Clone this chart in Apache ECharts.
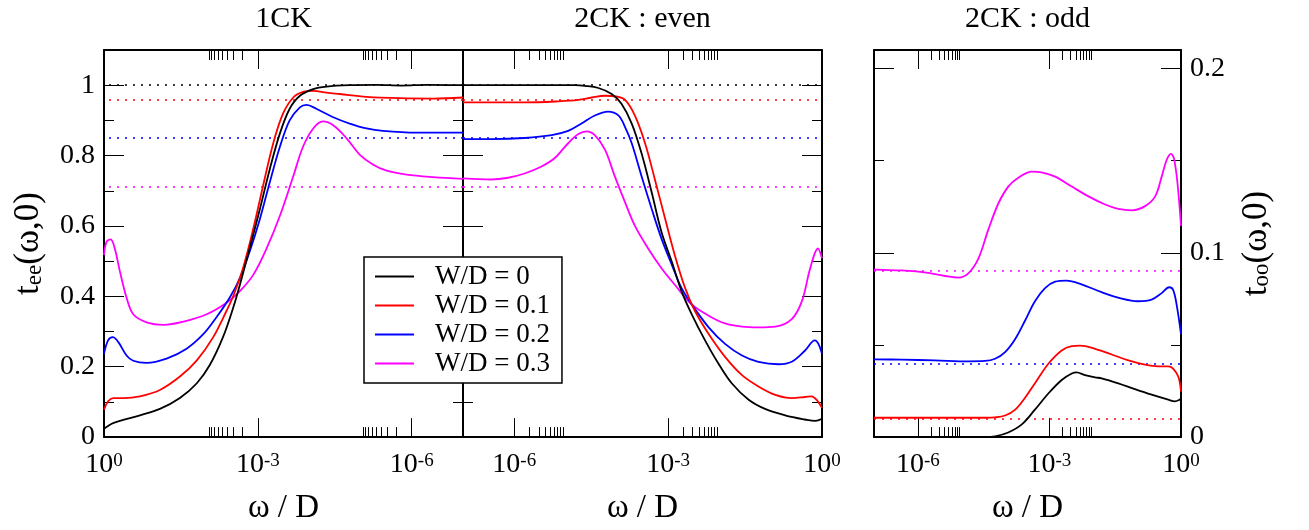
<!DOCTYPE html>
<html>
<head>
<meta charset="utf-8">
<script src="https://cdn.jsdelivr.net/npm/echarts@6/dist/echarts.min.js"></script>
<style>
  html, body { margin: 0; padding: 0; background: #fff; }
  #chart { width: 1309px; height: 530px; }
</style>
</head>
<body>
<div id="chart"></div>
<script>
// x values are log10(ω/D); y values are t(ω,0)

const seriesNames = ['W/D = 0', 'W/D = 0.1', 'W/D = 0.2', 'W/D = 0.3'];
const seriesColors = ['#000000', '#ff0000', '#0000ff', '#ff00ff'];
const panelTitles = ['1CK', '2CK : even', '2CK : odd'];

// dotted reference levels
const evenLevels = [1.0, 0.958, 0.85, 0.715];
const oddLevels = [0, 0.0105, 0.0416, 0.0897];

// 1CK
const ck1_w0 = [[0,0.024],[-0.15,0.038],[-0.31,0.046],[-0.70,0.062],[-1.09,0.080],[-1.48,0.111],[-1.81,0.153],[-2.06,0.204],[-2.32,0.284],[-2.52,0.368],[-2.65,0.433],[-2.84,0.536],[-3.04,0.648],[-3.23,0.760],[-3.43,0.863],[-3.62,0.933],[-3.82,0.970],[-4.08,0.989],[-4.34,0.996],[-4.79,1.0],[-5.3,1.001],[-5.8,0.999],[-6.3,1.001],[-7,1.0]];
const ck1_w1 = [[0,0.078],[-0.08,0.102],[-0.18,0.111],[-0.38,0.111],[-0.70,0.116],[-1.09,0.134],[-1.48,0.172],[-1.81,0.218],[-2.13,0.284],[-2.39,0.359],[-2.52,0.401],[-2.71,0.480],[-2.91,0.592],[-3.10,0.713],[-3.30,0.835],[-3.49,0.919],[-3.69,0.965],[-3.88,0.981],[-4.08,0.984],[-4.34,0.979],[-4.60,0.975],[-5.12,0.967],[-5.77,0.963],[-6.42,0.962],[-7,0.965]];
const ck1_w2 = [[0,0.237],[-0.08,0.275],[-0.17,0.284],[-0.28,0.270],[-0.44,0.232],[-0.57,0.217],[-0.83,0.211],[-1.22,0.223],[-1.61,0.251],[-1.94,0.293],[-2.19,0.340],[-2.45,0.396],[-2.65,0.452],[-2.84,0.527],[-3.04,0.620],[-3.23,0.723],[-3.43,0.825],[-3.62,0.900],[-3.82,0.937],[-3.95,0.944],[-4.14,0.933],[-4.47,0.909],[-4.79,0.891],[-5.12,0.877],[-5.44,0.870],[-6.09,0.865],[-7,0.865]];
const ck1_w3 = [[0,0.517],[-0.05,0.555],[-0.13,0.562],[-0.21,0.536],[-0.31,0.471],[-0.44,0.396],[-0.57,0.349],[-0.83,0.326],[-1.16,0.319],[-1.55,0.328],[-2.0,0.349],[-2.39,0.382],[-2.65,0.415],[-2.91,0.461],[-3.17,0.536],[-3.43,0.629],[-3.69,0.741],[-3.88,0.825],[-4.08,0.877],[-4.27,0.897],[-4.47,0.886],[-4.73,0.849],[-4.99,0.802],[-5.25,0.774],[-5.51,0.757],[-5.90,0.746],[-6.42,0.739],[-7,0.734]];

// 2CK even channel
const ck2e_w0 = [[-7,1.0],[-4.82,1.0],[-4.62,0.998],[-4.36,0.992],[-4.10,0.975],[-3.91,0.947],[-3.71,0.891],[-3.52,0.807],[-3.32,0.695],[-3.13,0.583],[-2.93,0.499],[-2.74,0.415],[-2.54,0.349],[-2.28,0.275],[-2.02,0.209],[-1.76,0.153],[-1.43,0.106],[-1.11,0.080],[-0.72,0.062],[-0.33,0.050],[-0.13,0.046],[0,0.052]];
const ck2e_w1 = [[-7,0.951],[-6.45,0.951],[-5.80,0.951],[-5.14,0.954],[-4.75,0.958],[-4.49,0.965],[-4.23,0.970],[-4.01,0.968],[-3.84,0.958],[-3.65,0.914],[-3.45,0.835],[-3.26,0.733],[-3.06,0.621],[-2.87,0.517],[-2.67,0.424],[-2.48,0.359],[-2.21,0.293],[-1.89,0.228],[-1.56,0.176],[-1.24,0.144],[-0.91,0.120],[-0.59,0.111],[-0.33,0.114],[-0.20,0.116],[-0.10,0.105],[0,0.083]];
const ck2e_w2 = [[-7,0.847],[-6.45,0.847],[-5.80,0.850],[-5.27,0.858],[-4.95,0.870],[-4.69,0.891],[-4.43,0.914],[-4.17,0.925],[-3.97,0.914],[-3.84,0.881],[-3.71,0.835],[-3.52,0.742],[-3.32,0.648],[-3.13,0.564],[-2.93,0.490],[-2.74,0.424],[-2.54,0.377],[-2.21,0.312],[-1.89,0.265],[-1.56,0.232],[-1.24,0.214],[-0.85,0.207],[-0.59,0.214],[-0.33,0.246],[-0.14,0.275],[-0.07,0.265],[0,0.237]];
const ck2e_w3 = [[-7,0.735],[-6.45,0.732],[-6.12,0.737],[-5.80,0.749],[-5.47,0.769],[-5.21,0.793],[-4.95,0.835],[-4.75,0.861],[-4.59,0.869],[-4.43,0.858],[-4.23,0.816],[-4.04,0.741],[-3.84,0.667],[-3.65,0.601],[-3.39,0.536],[-3.13,0.480],[-2.87,0.433],[-2.54,0.377],[-2.21,0.345],[-1.89,0.323],[-1.56,0.314],[-1.24,0.312],[-0.91,0.314],[-0.59,0.335],[-0.39,0.387],[-0.23,0.480],[-0.08,0.536],[0,0.508]];

// 2CK odd channel
const ck2o_w0 = [[-7,0],[-4.47,0],[-4.24,0.0004],[-3.94,0.0025],[-3.63,0.0069],[-3.33,0.0149],[-3.02,0.0238],[-2.72,0.031],[-2.49,0.0345],[-2.38,0.0351],[-2.19,0.0336],[-1.96,0.0324],[-1.81,0.0319],[-1.43,0.0292],[-1.05,0.026],[-0.67,0.023],[-0.29,0.0203],[-0.14,0.0194],[-0.03,0.0203],[0,0.021]];
const ck2o_w1 = [[-7,0.0105],[-4.47,0.0105],[-4.24,0.0107],[-4.01,0.0117],[-3.78,0.0149],[-3.56,0.0212],[-3.33,0.0292],[-3.02,0.0399],[-2.72,0.047],[-2.49,0.0493],[-2.30,0.0496],[-1.96,0.0479],[-1.58,0.0448],[-1.20,0.0416],[-0.82,0.0393],[-0.52,0.0384],[-0.29,0.0384],[-0.18,0.0372],[-0.06,0.0327],[0,0.0247]];
const ck2o_w2 = [[-7,0.0422],[-6.37,0.042],[-5.61,0.0416],[-4.85,0.0411],[-4.47,0.0413],[-4.24,0.0425],[-4.01,0.0461],[-3.78,0.0532],[-3.56,0.063],[-3.33,0.0737],[-3.10,0.0808],[-2.87,0.0843],[-2.61,0.0849],[-2.27,0.0829],[-1.81,0.0786],[-1.35,0.0751],[-0.98,0.0737],[-0.67,0.0746],[-0.44,0.0781],[-0.27,0.0813],[-0.18,0.0799],[-0.10,0.0719],[0,0.0559]];
const ck2o_w3 = [[-7,0.0909],[-6.37,0.0904],[-5.76,0.0891],[-5.38,0.0874],[-5.08,0.0865],[-4.85,0.0888],[-4.62,0.0968],[-4.39,0.1128],[-4.16,0.127],[-3.94,0.1359],[-3.71,0.1407],[-3.40,0.144],[-3.18,0.1436],[-2.87,0.1413],[-2.49,0.1359],[-2.11,0.1306],[-1.73,0.1262],[-1.43,0.1238],[-1.12,0.123],[-0.82,0.1253],[-0.59,0.1306],[-0.44,0.1413],[-0.33,0.1502],[-0.23,0.1537],[-0.16,0.1511],[-0.08,0.1377],[0,0.1146]];

// axis ticks
const xMajorTicks = [0, -3, -6];
const xMinorMantissas = [2, 3, 4, 5, 6, 7, 8, 9];
const xMinorDecades = [-3, -6];
const evenMajorTicks = [0, 0.2, 0.4, 0.6, 0.8, 1.0];
const evenMinorTicks = [0.1, 0.3, 0.5, 0.7, 0.9];
const oddMajorTicks = [0, 0.1, 0.2];
const oddMinorTicks = [0.05, 0.15];

const FONT = 'Liberation Serif';
const xMinorTicks = [];
xMinorDecades.forEach(d => xMinorMantissas.forEach(m => xMinorTicks.push(d + Math.log10(m))));

const panels = [
  { title: panelTitles[0], grid: { left: 104, top: 50, width: 359, height: 393 }, inverse: true,
    yMax: 1.1, yMajor: evenMajorTicks, yMinor: evenMinorTicks, yLabelSide: 'left',
    yName: '{t|t}{s|ee}{t|(ω,0)}', levels: evenLevels, curves: [ck1_w0, ck1_w1, ck1_w2, ck1_w3] },
  { title: panelTitles[1], grid: { left: 463, top: 50, width: 359, height: 393 }, inverse: false,
    yMax: 1.1, yMajor: evenMajorTicks, yMinor: evenMinorTicks, yLabelSide: null,
    yName: '', levels: evenLevels, curves: [ck2e_w0, ck2e_w1, ck2e_w2, ck2e_w3] },
  { title: panelTitles[2], grid: { left: 874, top: 50, width: 307, height: 393 }, inverse: false,
    yMax: 0.21, yMajor: oddMajorTicks, yMinor: oddMinorTicks, yLabelSide: 'right',
    yName: '{t|t}{s|oo}{t|(ω,0)}', levels: oddLevels, curves: [ck2o_w0, ck2o_w1, ck2o_w2, ck2o_w3] }
];

const axisLineStyle = { show: true, onZero: false, lineStyle: { color: '#000', width: 2 } };
const noLine = { show: false, onZero: false };
const tickColor = { color: '#000', width: 1 };

const grid = [], xAxis = [], yAxis = [], series = [], title = [];

panels.forEach((p, pi) => {
  grid.push(Object.assign({ containLabel: false }, p.grid));
  title.push({
    text: p.title, left: p.grid.left + p.grid.width / 2, top: 4, textAlign: 'center', padding: 0,
    textStyle: { fontFamily: FONT, fontSize: 30, fontWeight: 'normal', color: '#000' }
  });

  const xBase = { type: 'value', gridIndex: pi, min: -7, max: 0, inverse: p.inverse, splitLine: { show: false } };
  // bottom, labelled major ticks
  xAxis.push(Object.assign({}, xBase, {
    position: 'bottom', axisLine: axisLineStyle,
    axisTick: { inside: true, length: 19, lineStyle: tickColor, customValues: xMajorTicks },
    axisLabel: {
      customValues: xMajorTicks, margin: 14, color: '#000',
      formatter: v => '{m|10}{s|' + Math.round(v) + '}',
      rich: {
        m: { fontFamily: FONT, fontSize: 28, lineHeight: 28, color: '#000', verticalAlign: 'bottom' },
        s: { fontFamily: FONT, fontSize: 19, lineHeight: 19, color: '#000', verticalAlign: 'top', padding: [0, 0, 17, 0] }
      }
    },
    name: 'ω / D', nameLocation: 'middle', nameGap: 49,
    nameTextStyle: { fontFamily: FONT, fontSize: 33, color: '#000' }
  }));
  // top major ticks
  xAxis.push(Object.assign({}, xBase, {
    position: 'top', axisLine: axisLineStyle,
    axisTick: { inside: true, length: 19, lineStyle: tickColor, customValues: xMajorTicks },
    axisLabel: { show: false }
  }));
  // bottom and top minor ticks
  ['bottom', 'top'].forEach(pos => xAxis.push(Object.assign({}, xBase, {
    position: pos, axisLine: noLine,
    axisTick: { inside: true, length: 10, lineStyle: tickColor, customValues: xMinorTicks },
    axisLabel: { show: false }
  })));

  const yBase = { type: 'value', gridIndex: pi, min: 0, max: p.yMax, splitLine: { show: false } };
  ['left', 'right'].forEach(pos => {
    const labelled = p.yLabelSide === pos;
    const ax = Object.assign({}, yBase, {
      position: pos, axisLine: axisLineStyle,
      axisTick: { inside: true, length: 20, lineStyle: tickColor, customValues: p.yMajor },
      axisLabel: {
        show: labelled, customValues: p.yMajor, margin: 9, color: '#000',
        fontFamily: FONT, fontSize: 28,
        formatter: v => (v === 0 ? '0' : (Math.abs(v - 1) < 1e-9 ? '1' : String(+v.toFixed(2))))
      }
    });
    if (labelled) {
      Object.assign(ax, {
        name: p.yName, nameLocation: 'middle', nameRotate: 90,
        nameGap: pos === 'left' ? 58 : 44,
        nameTextStyle: {
          rich: {
            t: { fontFamily: FONT, fontSize: 35, lineHeight: 35, color: '#000', verticalAlign: 'top' },
            s: { fontFamily: FONT, fontSize: 23, lineHeight: 23, color: '#000', verticalAlign: 'bottom', padding: [22, 0, 0, 0] }
          }
        }
      });
    }
    yAxis.push(ax);
  });
  ['left', 'right'].forEach(pos => yAxis.push(Object.assign({}, yBase, {
    position: pos, axisLine: noLine,
    axisTick: { inside: true, length: 10, lineStyle: tickColor, customValues: p.yMinor },
    axisLabel: { show: false }
  })));

  p.curves.forEach((data, ci) => {
    series.push({
      type: 'line', name: seriesNames[ci], xAxisIndex: pi * 4, yAxisIndex: pi * 4,
      data: data, showSymbol: false, symbol: 'none', smooth: 0.35,
      lineStyle: { color: seriesColors[ci], width: 1.8 }, itemStyle: { color: seriesColors[ci] },
      z: 3 + (3 - ci),
      markLine: {
        silent: true, symbol: 'none', animation: false,
        label: { show: false },
        lineStyle: { color: seriesColors[ci], type: [2, 6], width: 1.5 },
        data: [{ yAxis: p.levels[ci] }]
      }
    });
  });
});

const chart = echarts.init(document.getElementById('chart'), null, { renderer: 'canvas' });
chart.setOption({
  backgroundColor: '#fff',
  animation: false,
  title: title,
  grid: grid,
  xAxis: xAxis,
  yAxis: yAxis,
  legend: {
    data: seriesNames, orient: 'vertical', left: 364, top: 257,
    icon: 'rect', itemWidth: 39, itemHeight: 2, itemGap: 0,
    padding: [5, 12, 5, 11], backgroundColor: '#fff', borderColor: '#000', borderWidth: 1.5,
    borderRadius: 0, selectedMode: false,
    textStyle: { fontFamily: FONT, fontSize: 27, lineHeight: 29, color: '#000', padding: [0, 0, 0, 16] }
  },
  series: series
});
</script>
</body>
</html>
